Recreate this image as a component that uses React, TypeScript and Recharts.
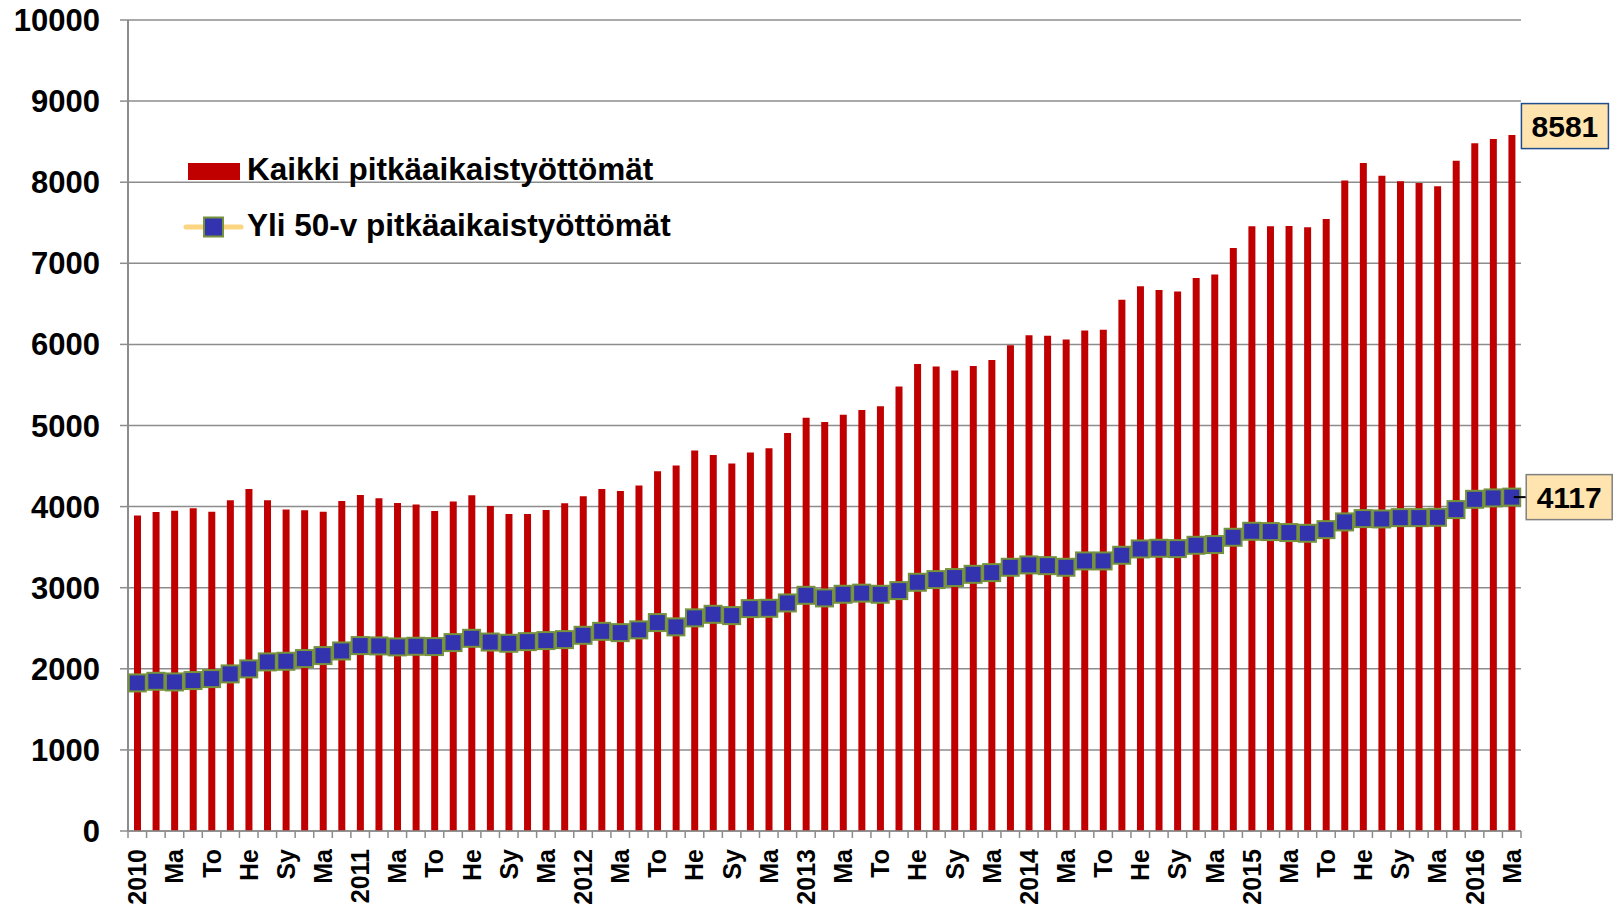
import { ComposedChart, Bar, Line, XAxis, YAxis, CartesianGrid, LabelList } from 'recharts';

// kuukaudet 1/2010 - 3/2016
const months: string[] = [];
for (let y = 2010; y <= 2016; y++) {
  for (let m = 1; m <= 12; m++) {
    if (y === 2016 && m > 3) break;
    months.push(`${y}-${m}`);
  }
}

// indeksi = kuukauden numero
const monthAbbr = ['', '', '', 'Ma', '', 'To', '', 'He', '', 'Sy', '', 'Ma', ''];
const tickLabels = months.map(k => {
  const [y, m] = k.split('-').map(Number);
  return m === 1 ? String(y) : monthAbbr[m];
});

const allLongTerm = [
  3889, 3934, 3950, 3979, 3938, 4078, 4218, 4078, 3963, 3955, 3938, 4070, 4144, 4103, 4045, 4025, 3947, 4062, 4140, 4006,
  3910, 3910, 3959, 4041, 4127, 4218, 4193, 4259, 4436, 4506, 4691, 4637, 4530, 4666, 4719, 4909, 5097, 5044, 5132, 5192,
  5237, 5480, 5759, 5726, 5677, 5734, 5808, 5989, 6112, 6108, 6059, 6170, 6182,
  6552, 6717, 6672, 6651, 6820, 6861, 7190,
  7457, 7457, 7461, 7444, 7547, 8020, 8238, 8078, 8011, 7991, 7950, 8266, 8480, 8534, 8581,
];

const over50 = [
  1826, 1846, 1838, 1855, 1879, 1937, 1999, 2085, 2093, 2126, 2163, 2220, 2286, 2282, 2270, 2278, 2274, 2323, 2376,
  2330, 2315, 2335, 2348, 2360, 2413, 2462, 2446, 2480, 2570, 2517, 2628, 2672, 2656, 2742, 2746, 2812, 2906, 2874, 2919, 2933,
  2919, 2964, 3067, 3100, 3125, 3165, 3186, 3252, 3281, 3272, 3252, 3330, 3330, 3400, 3478, 3486, 3482, 3523, 3532,
  3622, 3696, 3692, 3680, 3671, 3716, 3811, 3852, 3848, 3864, 3864, 3868, 3963, 4090, 4107, 4117,
];

const yTicks = [0, 1000, 2000, 3000, 4000, 5000, 6000, 7000, 8000, 9000, 10000];

const data = months.map((m, i) => ({ month: m, all: allLongTerm[i], over50: over50[i] }));
const LAST = months.length - 1;

const W = 1616;
const H = 909;
const M = { top: 20, right: 95, bottom: 0, left: 0 };
const Y_W = 128;
const BAND = (W - M.right - M.left - Y_W) / months.length;
const GRID = '#8c8c8c';
const FONT = '"Liberation Sans", Arial, sans-serif';

function MonthTick(props: any) {
  const { x, y, payload, index } = props;
  const off = payload?.offset || BAND / 2;
  const label = tickLabels[payload?.index ?? index];
  return (
    <g>
      <line x1={x - off} x2={x - off} y1={y} y2={y + 7} stroke={GRID} strokeWidth={1.5} />
      {index === LAST && <line x1={x + off} x2={x + off} y1={y} y2={y + 7} stroke={GRID} strokeWidth={1.5} />}
      {label && (
        <text
          x={x}
          y={y + 18}
          dy="0.36em"
          transform={`rotate(-90, ${x}, ${y + 18})`}
          textAnchor="end"
          fontSize={25}
          fontWeight={700}
          fill="#000"
        >
          {label}
        </text>
      )}
    </g>
  );
}

function SquareDot(props: any) {
  const { cx, cy, index } = props;
  if (cx == null || cy == null) return <g key={index} />;
  return (
    <rect key={index} x={cx - 8.5} y={cy - 8.5} width={17} height={17} fill="#3333b0" stroke="#76923c" strokeWidth={2} />
  );
}

function BarValueLabel(props: any) {
  const { x, y, width, index, value } = props;
  if (index !== LAST) return null;
  const bx = x + width + 6;
  const cy = y - 9;
  return (
    <g>
      <rect x={bx} y={cy - 22.5} width={87} height={45} fill="#ffe4b0" stroke="#1f4e8c" strokeWidth={1.5} />
      <text x={bx + 43.5} y={cy} dy="0.36em" textAnchor="middle" fontSize={30} fontWeight={700} fill="#000">
        {value}
      </text>
    </g>
  );
}

function LineValueLabel(props: any) {
  const { x, y, index, value } = props;
  if (index !== LAST) return null;
  const bx = x + 14.5;
  return (
    <g>
      <line x1={x + 2} x2={bx} y1={y} y2={y} stroke="#000" strokeWidth={2} />
      <rect x={bx} y={y - 22.5} width={86} height={45} fill="#ffe4b0" stroke="#808080" strokeWidth={1.5} />
      <text x={bx + 43} y={y} dy="0.36em" textAnchor="middle" fontSize={30} fontWeight={700} fill="#000">
        {value}
      </text>
    </g>
  );
}

export default function App() {
  return (
    <div style={{ position: 'absolute', left: 0, top: 0, width: W, height: H, background: '#fff', fontFamily: FONT }}>
      <ComposedChart width={W} height={H} data={data} margin={M} barSize={7}>
        <CartesianGrid vertical={false} stroke={GRID} strokeWidth={1.5} />
        <XAxis
          dataKey="month"
          interval={0}
          height={78}
          tickLine={false}
          tickSize={0}
          tickMargin={0}
          axisLine={{ stroke: GRID, strokeWidth: 1.5 }}
          tick={<MonthTick />}
        />
        <YAxis
          domain={[0, 10000]}
          ticks={yTicks}
          interval={0}
          width={Y_W}
          tickSize={8}
          tickMargin={20}
          axisLine={{ stroke: GRID, strokeWidth: 2 }}
          tickLine={{ stroke: GRID, strokeWidth: 1.5 }}
          tick={{ fill: '#000', fontSize: 31, fontWeight: 700 }}
        />
        <YAxis
          yAxisId="right"
          orientation="right"
          domain={[0, 10000]}
          width={0}
          tick={false}
          tickLine={false}
          axisLine={{ stroke: GRID, strokeWidth: 2 }}
        />
        <Bar dataKey="all" fill="#c00000" isAnimationActive={false}>
          <LabelList dataKey="all" content={<BarValueLabel />} />
        </Bar>
        <Line
          type="linear"
          dataKey="over50"
          stroke="#fcd581"
          strokeWidth={4}
          dot={(p: any) => <SquareDot key={p.index} {...p} />}
          activeDot={false}
          isAnimationActive={false}
        >
          <LabelList dataKey="over50" content={<LineValueLabel />} />
        </Line>
      </ComposedChart>
      <svg width={W} height={H} style={{ position: 'absolute', left: 0, top: 0, pointerEvents: 'none' }}>
        <rect x={188} y={163} width={52} height={17} fill="#c00000" />
        <text x={247} y={180} fontSize={31.5} fontWeight={700} fill="#000">Kaikki pitkäaikaistyöttömät</text>
        <line x1={186} x2={241} y1={227} y2={227} stroke="#fcd581" strokeWidth={5} strokeLinecap="round" />
        <rect x={204} y={217.5} width={19} height={19} fill="#3333b0" stroke="#76923c" strokeWidth={2} />
        <text x={247} y={236} fontSize={31.5} fontWeight={700} fill="#000">Yli 50-v pitkäaikaistyöttömät</text>
      </svg>
    </div>
  );
}
